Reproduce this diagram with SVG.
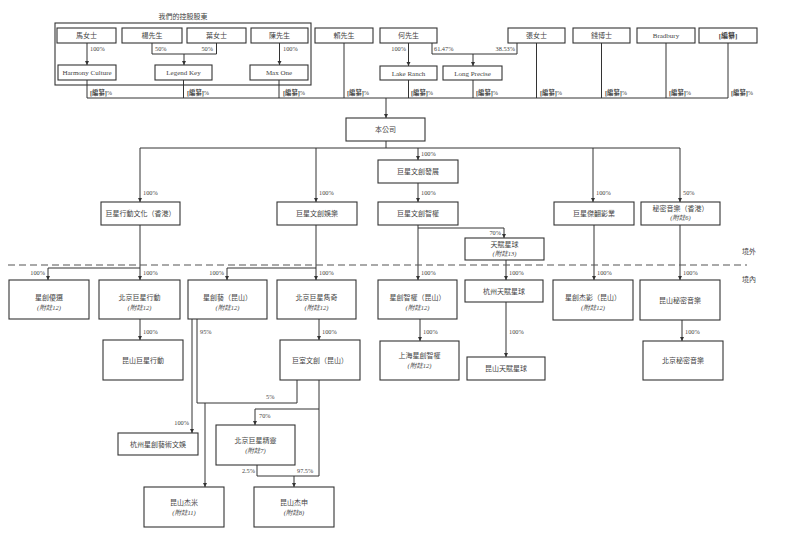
<svg xmlns="http://www.w3.org/2000/svg" width="800" height="546" viewBox="0 0 800 546">
<style>
  .bx{fill:#fff;stroke:#333;stroke-width:1.1}
  .grp{fill:none;stroke:#333;stroke-width:1.1}
  .t{font-family:"Liberation Serif","Noto Sans CJK TC",serif;font-size:7px;fill:#444;text-anchor:middle}
  .n{font-family:"Liberation Serif","Noto Sans CJK TC",serif;font-size:6.5px;fill:#444;font-style:italic;text-anchor:middle}
  .p{font-family:"Liberation Serif","Noto Sans CJK TC",serif;font-size:6.3px;fill:#444}
  .e{text-anchor:end}
  .b{font-weight:bold}
  .ln{fill:none;stroke:#333;stroke-width:1}
  .ar{fill:none;stroke:#333;stroke-width:1;marker-end:url(#ah)}
  .dash{fill:none;stroke:#555;stroke-width:1.2;stroke-dasharray:7 4}
</style>
<defs>
  <marker id="ah" viewBox="0 0 6 6" refX="6" refY="3" markerWidth="4.5" markerHeight="4.5" orient="auto" markerUnits="userSpaceOnUse">
    <path d="M0,0 L6,3 L0,6 z" fill="#333"/>
  </marker>
</defs>
<rect width="800" height="546" fill="#fff"/>

<g id="connectors">
  <!-- top shareholders -->
  <path class="ar" d="M87,43 V65"/>
  <path class="ln" d="M152,43 V54 H216.5 V43"/>
  <path class="ar" d="M184,54 V65"/>
  <path class="ar" d="M279.5,43 V65"/>
  <path class="ar" d="M408.5,43 V66"/>
  <path class="ln" d="M432,43 V54 H517 V43"/>
  <path class="ar" d="M473,54 V66"/>
  <path class="ln" d="M87,80 V98 M183.5,80 V98 M279,80 V98 M344,43 V98 M408.5,80 V98 M473,80 V98 M536.5,43 V98 M601.5,43 V98 M666,43 V98 M728,43 V98 M87,98 H728"/>
  <path class="ar" d="M386,98 V118"/>
  <!-- company -->
  <path class="ln" d="M386,141 V148 M140,148 H680"/>
  <path class="ar" d="M140,148 V202"/>
  <path class="ar" d="M316,148 V202"/>
  <path class="ar" d="M418,148 V160"/>
  <path class="ar" d="M418,183 V202"/>
  <path class="ar" d="M593,148 V202"/>
  <path class="ar" d="M680,148 V202"/>
  <!-- offshore to onshore -->
  <path class="ar" d="M140,225 V280"/>
  <path class="ln" d="M140,268 H48"/>
  <path class="ar" d="M48,268 V280"/>
  <path class="ar" d="M316,225 V280"/>
  <path class="ln" d="M316,268 H227"/>
  <path class="ar" d="M227,268 V280"/>
  <path class="ar" d="M418,225 V280"/>
  <path class="ln" d="M418,228 H504"/>
  <path class="ar" d="M504,228 V238"/>
  <path class="ar" d="M506,260 V280"/>
  <path class="ar" d="M594,225 V280"/>
  <path class="ar" d="M680,225 V280"/>
  <!-- onshore -->
  <path class="ar" d="M140,319 V340"/>
  <path class="ar" d="M319,319 V340"/>
  <path class="ar" d="M420,319 V341"/>
  <path class="ar" d="M506,302 V357"/>
  <path class="ar" d="M682,320 V341"/>
  <path class="ar" d="M192,319 V433"/>
  <path class="ln" d="M197,319 V403 H297 V380"/>
  <path class="ar" d="M205,403 V487"/>
  <path class="ln" d="M319,380 V476 M319,409 H255"/>
  <path class="ar" d="M255,409 V425"/>
  <path class="ln" d="M257,465 V476 H319"/>
  <path class="ar" d="M294,476 V487"/>
  <!-- dashed border -->
  <path class="dash" d="M8,265 H747"/>
</g>

<g id="labels">
  <text class="p" x="90" y="51">100%</text>
  <text class="p" x="155" y="51">50%</text>
  <text class="p e" x="213" y="51">50%</text>
  <text class="p" x="283" y="51">100%</text>
  <text class="p e" x="406" y="51">100%</text>
  <text class="p" x="434" y="51">61.47%</text>
  <text class="p e" x="515" y="51">38.53%</text>
  <text class="p" x="90" y="95"><tspan class="b">[編纂]</tspan>%</text>
  <text class="p" x="187" y="95"><tspan class="b">[編纂]</tspan>%</text>
  <text class="p" x="283" y="95"><tspan class="b">[編纂]</tspan>%</text>
  <text class="p" x="347" y="95"><tspan class="b">[編纂]</tspan>%</text>
  <text class="p" x="411" y="95"><tspan class="b">[編纂]</tspan>%</text>
  <text class="p" x="476" y="95"><tspan class="b">[編纂]</tspan>%</text>
  <text class="p" x="540" y="95"><tspan class="b">[編纂]</tspan>%</text>
  <text class="p" x="605" y="95"><tspan class="b">[編纂]</tspan>%</text>
  <text class="p" x="669" y="95"><tspan class="b">[編纂]</tspan>%</text>
  <text class="p" x="731" y="95"><tspan class="b">[編纂]</tspan>%</text>
  <text class="p" x="421" y="156">100%</text>
  <text class="p" x="143" y="195">100%</text>
  <text class="p" x="319" y="195">100%</text>
  <text class="p" x="421" y="195">100%</text>
  <text class="p" x="596" y="195">100%</text>
  <text class="p" x="683" y="195">50%</text>
  <text class="p e" x="501" y="235">70%</text>
  <text class="p e" x="45" y="275">100%</text>
  <text class="p" x="143" y="275">100%</text>
  <text class="p e" x="224" y="275">100%</text>
  <text class="p" x="319" y="275">100%</text>
  <text class="p" x="421" y="275">100%</text>
  <text class="p" x="509" y="275">100%</text>
  <text class="p" x="597" y="275">100%</text>
  <text class="p" x="683" y="275">100%</text>
  <text class="p" x="143" y="334">100%</text>
  <text class="p" x="200" y="334">95%</text>
  <text class="p" x="322" y="334">100%</text>
  <text class="p" x="423" y="334">100%</text>
  <text class="p" x="509" y="334">100%</text>
  <text class="p" x="685" y="334">100%</text>
  <text class="p" x="266" y="399">5%</text>
  <text class="p e" x="189" y="425">100%</text>
  <text class="p" x="259" y="418">70%</text>
  <text class="p e" x="255" y="473">2.5%</text>
  <text class="p" x="297" y="473">97.5%</text>
  <text class="t" x="749" y="254">境外</text>
  <text class="t" x="749" y="282">境內</text>
</g>

<g id="controlling-shareholders">
  <rect class="grp" x="55" y="23" width="256" height="62"/>
  <text class="t" x="183" y="19">我們的控股股東</text>
</g>
<g id="ma"><rect class="bx" x="57" y="28" width="59" height="15"/><text class="t" x="86.5" y="38">馬女士</text></g>
<g id="yang"><rect class="bx" x="122" y="28" width="60" height="15"/><text class="t" x="152" y="38">楊先生</text></g>
<g id="ye"><rect class="bx" x="187" y="28" width="59" height="15"/><text class="t" x="216.5" y="38">葉女士</text></g>
<g id="chen"><rect class="bx" x="251" y="28" width="57" height="15"/><text class="t" x="279.5" y="38">陳先生</text></g>
<g id="harmony"><rect class="bx" x="58" y="65" width="58" height="15"/><text class="t" x="87" y="75">Harmony Culture</text></g>
<g id="legend"><rect class="bx" x="155" y="65" width="57" height="15"/><text class="t" x="183.5" y="75">Legend Key</text></g>
<g id="maxone"><rect class="bx" x="250" y="65" width="58" height="15"/><text class="t" x="279" y="75">Max One</text></g>
<g id="lai"><rect class="bx" x="315" y="28" width="58" height="15"/><text class="t" x="344" y="38">賴先生</text></g>
<g id="he"><rect class="bx" x="380" y="28" width="57" height="15"/><text class="t" x="408.5" y="38">何先生</text></g>
<g id="zhang"><rect class="bx" x="508" y="28" width="57" height="15"/><text class="t" x="536.5" y="38">張女士</text></g>
<g id="qian"><rect class="bx" x="573" y="28" width="57" height="15"/><text class="t" x="601.5" y="38">錢博士</text></g>
<g id="bradbury"><rect class="bx" x="637" y="28" width="58" height="15"/><text class="t" x="666" y="38">Bradbury</text></g>
<g id="redacted"><rect class="bx" x="699" y="28" width="58" height="15"/><text class="t b" x="728" y="38">[編纂]</text></g>
<g id="lakeranch"><rect class="bx" x="380" y="66" width="57" height="14"/><text class="t" x="408.5" y="75.5">Lake Ranch</text></g>
<g id="longprecise"><rect class="bx" x="443" y="66" width="59" height="14"/><text class="t" x="472.5" y="75.5">Long Precise</text></g>

<g id="company"><rect class="bx" x="346" y="118" width="79" height="23"/><text class="t" x="385.5" y="132">本公司</text></g>
<g id="jx-fazhan"><rect class="bx" x="378" y="160" width="80" height="23"/><text class="t" x="418" y="174">巨星文創發展</text></g>
<g id="jx-hk"><rect class="bx" x="101" y="202" width="79" height="23"/><text class="t" x="140.5" y="216">巨星行動文化（香港）</text></g>
<g id="jx-yule"><rect class="bx" x="277" y="202" width="80" height="23"/><text class="t" x="317" y="216">巨星文創娛樂</text></g>
<g id="jx-zhiquan"><rect class="bx" x="378" y="202" width="80" height="23"/><text class="t" x="418" y="216">巨星文創智權</text></g>
<g id="jx-yingye"><rect class="bx" x="554" y="202" width="80" height="23"/><text class="t" x="594" y="216">巨星傑翻影業</text></g>
<g id="mimi-hk"><rect class="bx" x="641" y="202" width="79" height="23"/><text class="t" x="680.5" y="211">秘密音樂（香港）</text><text class="n" x="680.5" y="220">(附註6)</text></g>
<g id="tianfu"><rect class="bx" x="465" y="238" width="79" height="22"/><text class="t" x="504.5" y="247">天賦星球</text><text class="n" x="504.5" y="256">(附註13)</text></g>

<g id="xc-youxuan"><rect class="bx" x="9" y="280" width="80" height="39"/><text class="t" x="49" y="300">星創優選</text><text class="n" x="49" y="310">(附註12)</text></g>
<g id="bj-xingdong"><rect class="bx" x="99" y="280" width="81" height="39"/><text class="t" x="139.5" y="300">北京巨星行動</text><text class="n" x="139.5" y="310">(附註12)</text></g>
<g id="xc-yi"><rect class="bx" x="188" y="280" width="79" height="39"/><text class="t" x="227.5" y="300">星創藝（昆山）</text><text class="n" x="227.5" y="310">(附註12)</text></g>
<g id="bj-junqi"><rect class="bx" x="277" y="280" width="79" height="39"/><text class="t" x="316.5" y="300">北京巨星雋奇</text><text class="n" x="316.5" y="310">(附註12)</text></g>
<g id="xc-zhiquan"><rect class="bx" x="378" y="280" width="79" height="39"/><text class="t" x="417.5" y="300">星創智權（昆山）</text><text class="n" x="417.5" y="310">(附註12)</text></g>
<g id="hz-tianfu"><rect class="bx" x="465" y="280" width="78" height="22"/><text class="t" x="504" y="294">杭州天賦星球</text></g>
<g id="xc-jieying"><rect class="bx" x="553" y="280" width="80" height="40"/><text class="t" x="593" y="300">星創杰影（昆山）</text><text class="n" x="593" y="310">(附註12)</text></g>
<g id="ks-mimi"><rect class="bx" x="640" y="280" width="80" height="40"/><text class="t" x="680" y="303">昆山秘密音樂</text></g>

<g id="ks-xingdong"><rect class="bx" x="103" y="340" width="80" height="40"/><text class="t" x="143" y="363">昆山巨星行動</text></g>
<g id="jushi"><rect class="bx" x="280" y="340" width="80" height="40"/><text class="t" x="320" y="363">巨室文創（昆山）</text></g>
<g id="sh-zhiquan"><rect class="bx" x="380" y="341" width="79" height="39"/><text class="t" x="419.5" y="358">上海星創智權</text><text class="n" x="419.5" y="368">(附註12)</text></g>
<g id="ks-tianfu"><rect class="bx" x="467" y="357" width="78" height="23"/><text class="t" x="506" y="371">昆山天賦星球</text></g>
<g id="bj-mimi"><rect class="bx" x="643" y="341" width="80" height="39"/><text class="t" x="683" y="363">北京秘密音樂</text></g>

<g id="hz-xcy"><rect class="bx" x="118" y="433" width="80" height="22"/><text class="t" x="158" y="447">杭州星創藝術文娛</text></g>
<g id="bj-jingling"><rect class="bx" x="216" y="425" width="79" height="40"/><text class="t" x="255.5" y="443">北京巨星精靈</text><text class="n" x="255.5" y="453">(附註7)</text></g>
<g id="ks-jiemi"><rect class="bx" x="144" y="487" width="80" height="40"/><text class="t" x="184" y="505">昆山杰米</text><text class="n" x="184" y="515">(附註11)</text></g>
<g id="ks-jieshen"><rect class="bx" x="254" y="487" width="80" height="40"/><text class="t" x="294" y="505">昆山杰申</text><text class="n" x="294" y="515">(附註8)</text></g>
</svg>
